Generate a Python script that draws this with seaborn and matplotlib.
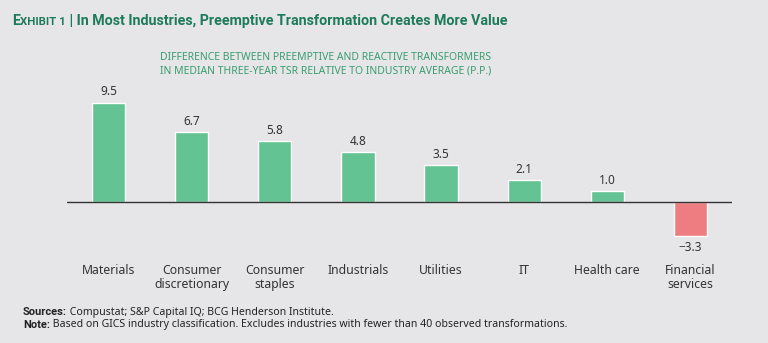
import matplotlib
matplotlib.use("Agg")
import matplotlib.pyplot as plt
import seaborn as sns
import pandas as pd

categories = ["Materials", "Consumer\ndiscretionary", "Consumer\nstaples", "Industrials",
              "Utilities", "IT", "Health care", "Financial\nservices"]
values = [9.5, 6.7, 5.8, 4.8, 3.5, 2.1, 1.0, -3.3]
value_labels = ["9.5", "6.7", "5.8", "4.8", "3.5", "2.1", "1.0", "\u22123.3"]

BG = "#e6e6e8"
GREEN = "#64c393"
RED = "#ee7d82"
TITLE_GREEN = "#1e7b5a"
SUB_GREEN = "#3a9d70"

sns.set_theme(style="white")
plt.rcParams["font.family"] = ["Noto Sans", "DejaVu Sans"]
BOLDFAM = ["Roboto", "DejaVu Sans"]

fig = plt.figure(figsize=(7.68, 3.43), dpi=100, facecolor=BG)
W, H = 768, 343
ax = fig.add_axes([67 / W, (H - 254) / H, 665 / W, 167 / H])
ax.set_facecolor(BG)

df = pd.DataFrame({"cat": categories, "val": values,
                   "sign": ["pos" if v >= 0 else "neg" for v in values]})
sns.barplot(data=df, x="cat", y="val", hue="sign", palette={"pos": GREEN, "neg": RED},
            width=0.4, dodge=False, legend=False, ax=ax, saturation=1)

ax.set_xlim(-0.5, len(categories) - 0.5)
ax.set_ylim(-5, 11)
ax.axhline(0, color="#333333", lw=1.0, zorder=3)
for s in ax.spines.values():
    s.set_visible(False)
ax.set_yticks([])
ax.set_xlabel("")
ax.set_ylabel("")
ax.tick_params(axis="x", length=0, pad=7, labelsize=8.8, labelcolor="#333333")
ax.set_xticks(range(len(categories)))
ax.set_xticklabels(categories, va="top", linespacing=1.15)

for i, (v, lab) in enumerate(zip(values, value_labels)):
    if v >= 0:
        ax.text(i, v + 0.4, lab, ha="center", va="bottom", fontsize=8.5, color="#333333")
    else:
        ax.text(i, v - 0.5, lab, ha="center", va="top", fontsize=8.5, color="#333333")

renderer = fig.canvas.get_renderer()
x = 12 / W
ty = 1 - 25 / H
parts = [("E", 10.3), ("XHIBIT 1", 8.2), (" | In Most Industries, Preemptive Transformation Creates More Value", 10.3)]
for txt, fs in parts:
    t = fig.text(x, ty, txt, fontsize=fs, fontweight="bold", color=TITLE_GREEN,
                 ha="left", va="baseline", family=BOLDFAM)
    bb = t.get_window_extent(renderer=renderer)
    x += bb.width / W

fig.text(326 / W, 1 - 57 / H,
         "DIFFERENCE BETWEEN PREEMPTIVE AND REACTIVE TRANSFORMERS",
         ha="center", va="center", fontsize=7.5, color=SUB_GREEN)
fig.text(326 / W, 1 - 71 / H,
         "IN MEDIAN THREE-YEAR TSR RELATIVE TO INDUSTRY AVERAGE (P.P.)",
         ha="center", va="center", fontsize=7.5, color=SUB_GREEN)

def line(xpx, ypx, bold, rest):
    t = fig.text(xpx / W, 1 - ypx / H, bold, fontsize=8, fontweight="bold",
                 color="#222222", ha="left", va="center", family=BOLDFAM)
    bb = t.get_window_extent(renderer=renderer)
    fig.text((xpx + bb.width) / W, 1 - ypx / H, " " + rest, fontsize=7.6,
             color="#222222", ha="left", va="center")

line(23, 312, "Sources:", "Compustat; S&P Capital IQ; BCG Henderson Institute.")
line(23, 325, "Note:", "Based on GICS industry classification. Excludes industries with fewer than 40 observed transformations.")

fig.savefig("out.png", dpi=100, facecolor=BG)
